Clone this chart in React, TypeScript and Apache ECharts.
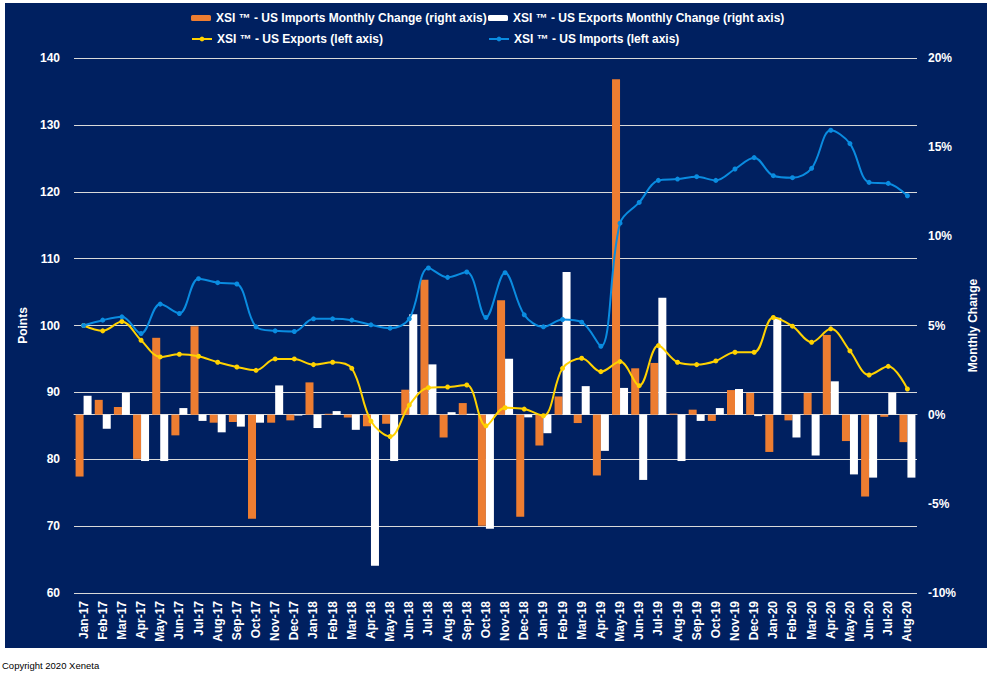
import React, { useEffect, useRef } from "react";
import * as echarts from "echarts";

const categories = [
  "Jan-17", "Feb-17", "Mar-17", "Apr-17", "May-17", "Jun-17", "Jul-17", "Aug-17", "Sep-17", "Oct-17", "Nov-17", "Dec-17",
  "Jan-18", "Feb-18", "Mar-18", "Apr-18", "May-18", "Jun-18", "Jul-18", "Aug-18", "Sep-18", "Oct-18", "Nov-18", "Dec-18",
  "Jan-19", "Feb-19", "Mar-19", "Apr-19", "May-19", "Jun-19", "Jul-19", "Aug-19", "Sep-19", "Oct-19", "Nov-19", "Dec-19",
  "Jan-20", "Feb-20", "Mar-20", "Apr-20", "May-20", "Jun-20", "Jul-20", "Aug-20",
];

// XSI US Imports index (left axis)
const usImports = [
  100, 100.8, 101.3, 98.8, 103.2, 101.8, 107.0, 106.4, 106.2, 99.8, 99.2, 99.1,
  101.0, 101.0, 100.8, 100.1, 99.6, 101.0, 108.6, 107.2, 108.0, 101.2, 107.9, 101.6,
  99.8, 100.9, 100.5, 96.9, 115.3, 118.4, 121.7, 121.9, 122.25, 121.7, 123.4, 125.1,
  122.4, 122.1, 123.5, 129.2, 127.2, 121.4, 121.25, 119.4,
];

// XSI US Exports index (left axis)
const usExports = [
  100, 99.2, 100.6, 97.8, 95.3, 95.7, 95.4, 94.5, 93.8, 93.3, 95.0, 95.0,
  94.15, 94.5, 93.6, 85.7, 83.4, 88.1, 90.7, 90.8, 91.1, 85.0, 87.7, 87.5,
  86.5, 93.6, 95.1, 93.1, 94.6, 91.0, 97.0, 94.5, 94.15, 94.7, 96.0, 96.0,
  101.2, 99.9, 97.5, 99.5, 96.2, 92.6, 93.9, 90.5,
];

// Monthly change, % (right axis)
const importsChange = [
  -3.47, 0.83, 0.43, -2.48, 4.31, -1.16, 4.96, -0.45, -0.41, -5.83, -0.45, -0.32,
  1.81, 0.05, -0.16, -0.65, -0.51, 1.4, 7.56, -1.28, 0.65, -6.23, 6.42, -5.73,
  -1.73, 1.02, -0.47, -3.41, 18.81, 2.6, 2.9, 0.06, 0.28, -0.35, 1.38, 1.22,
  -2.09, -0.32, 1.22, 4.47, -1.48, -4.59, -0.12, -1.54,
];

const exportsChange = [
  1.06, -0.79, 1.22, -2.6, -2.6, 0.37, -0.35, -0.99, -0.67, -0.45, 1.64, -0.05,
  -0.75, 0.2, -0.85, -8.47, -2.6, 5.63, 2.82, 0.14, 0.05, -6.4, 3.13, -0.15,
  -1.04, 8.0, 1.6, -2.03, 1.5, -3.66, 6.56, -2.6, -0.35, 0.37, 1.44, -0.08,
  5.44, -1.28, -2.29, 1.87, -3.35, -3.53, 1.22, -3.53,
];

const leftTicks = { min: 60, max: 140, interval: 10 };
const rightTicks = { min: -10, max: 20, interval: 5 };

const N_IMP_CHG = "XSI ™ - US Imports Monthly Change (right axis)";
const N_EXP_CHG = "XSI ™ - US Exports Monthly Change (right axis)";
const N_EXP = "XSI ™ - US Exports (left axis)";
const N_IMP = "XSI ™ - US Imports (left axis)";

export default function App() {
  const ref = useRef<HTMLDivElement>(null);

  useEffect(() => {
    if (!ref.current) return;
    const chart = echarts.init(ref.current, null, { renderer: "svg" });
    const font = "'Liberation Sans', Arial, sans-serif";
    const lbl = { color: "#ffffff", fontWeight: "bold" as const, fontSize: 12, fontFamily: font };
    const legendBase = {
      padding: 0,
      itemWidth: 20,
      itemHeight: 6,
      textStyle: { ...lbl },
    };
    chart.setOption({
      animation: false,
      backgroundColor: "#ffffff",
      textStyle: { fontFamily: font },
      graphic: [
        {
          type: "rect",
          z: -100,
          silent: true,
          shape: { x: 5, y: 3, width: 982, height: 645 },
          style: { fill: "#002060" },
        },
        {
          type: "text",
          x: 2,
          y: 665,
          silent: true,
          style: {
            text: "Copyright 2020 Xeneta",
            fill: "#000000",
            font: "9.5px 'Liberation Sans', Arial, sans-serif",
            verticalAlign: "middle",
          },
        },
      ],
      legend: [
        { ...legendBase, data: [N_IMP_CHG], left: 191, top: 12 },
        { ...legendBase, data: [N_EXP_CHG], left: 488, top: 12 },
        { ...legendBase, data: [N_EXP], left: 191, top: 33 },
        { ...legendBase, data: [N_IMP], left: 488, top: 33 },
      ],
      grid: { left: 74, right: 80, top: 58, bottom: 89 },
      xAxis: {
        type: "category",
        data: categories,
        axisLine: { lineStyle: { color: "#d9d9d9", width: 1 } },
        axisTick: { show: false },
        axisLabel: { ...lbl, rotate: 90, interval: 0, margin: 8 },
      },
      yAxis: [
        {
          type: "value",
          ...leftTicks,
          position: "left",
          name: "Points",
          nameLocation: "middle",
          nameGap: 39,
          nameTextStyle: { ...lbl },
          axisLine: { show: false },
          axisTick: { show: false },
          axisLabel: { ...lbl, margin: 14 },
          splitLine: { lineStyle: { color: "#d9d9d9", width: 1 } },
        },
        {
          type: "value",
          ...rightTicks,
          position: "right",
          name: "Monthly Change",
          nameLocation: "middle",
          nameGap: 41,
          nameTextStyle: { ...lbl },
          axisLine: { show: false },
          axisTick: { show: false },
          axisLabel: { ...lbl, margin: 11, formatter: "{value}%" },
          splitLine: { show: false },
        },
      ],
      series: [
        {
          name: N_IMP_CHG,
          type: "bar",
          yAxisIndex: 1,
          data: importsChange,
          barWidth: 8,
          barGap: "0%",
          itemStyle: { color: "#ED7D31" },
        },
        {
          name: N_EXP_CHG,
          type: "bar",
          yAxisIndex: 1,
          data: exportsChange,
          barWidth: 8,
          barGap: "0%",
          itemStyle: { color: "#ffffff" },
        },
        {
          name: N_EXP,
          type: "line",
          yAxisIndex: 0,
          data: usExports,
          smooth: 0.35,
          symbol: "circle",
          symbolSize: 5,
          lineStyle: { color: "#FFD200", width: 2 },
          itemStyle: { color: "#FFD200" },
        },
        {
          name: N_IMP,
          type: "line",
          yAxisIndex: 0,
          data: usImports,
          smooth: 0.35,
          symbol: "circle",
          symbolSize: 5,
          lineStyle: { color: "#0A8CE0", width: 2 },
          itemStyle: { color: "#0A8CE0" },
        },
      ],
    });
    return () => chart.dispose();
  }, []);

  return (
    <div
      ref={ref}
      style={{ position: "absolute", left: 0, top: 0, width: 997, height: 682 }}
    />
  );
}
